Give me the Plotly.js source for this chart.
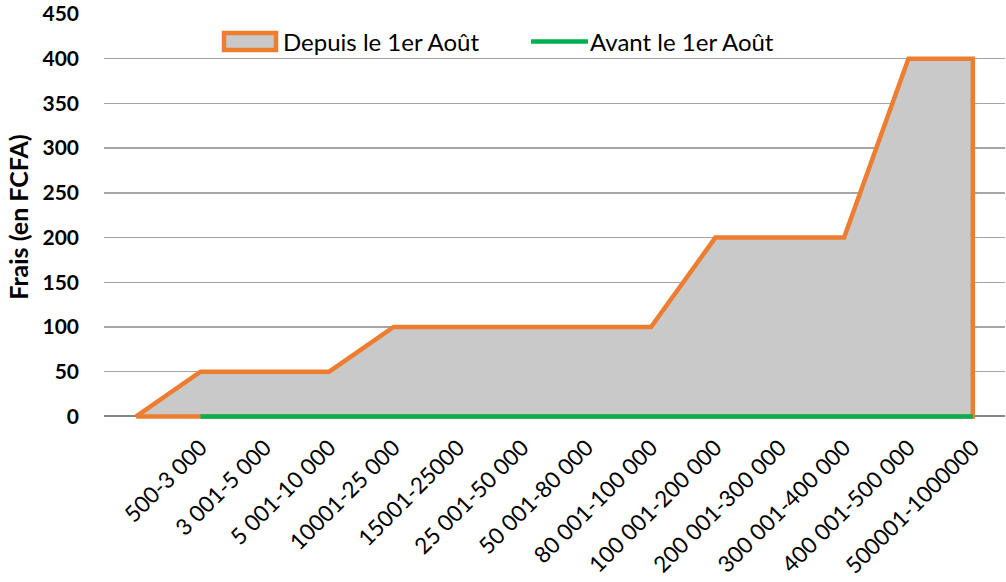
<!DOCTYPE html>
<html>
<head>
<meta charset="utf-8">
<script src="https://cdn.plot.ly/plotly-3.0.1.min.js"></script>
<style>html,body{margin:0;padding:0;background:#fff;}#chart{width:1006px;height:582px;}</style>
</head>
<body>
<div id="chart"></div>
<script>
// Category labels (first slot is empty, as in the original)
const categories = ["", "500-3 000", "3 001-5 000", "5 001-10 000", "10001-25 000", "15001-25000",
  "25 001-50 000", "50 001-80 000", "80 001-100 000", "100 001-200 000", "200 001-300 000",
  "300 001-400 000", "400 001-500 000", "500001-1000000"];
const depuis = [0, 50, 50, 50, 100, 100, 100, 100, 100, 200, 200, 200, 400, 400];
const avant = [null, 0, 0, 0, 0, 0, 0, 0, 0, 0, 0, 0, 0, 0];
const yTicks = [0, 50, 100, 150, 200, 250, 300, 350, 400, 450];
const seriesNames = ["Depuis le 1er Août", "Avant le 1er Août"];

const idx = categories.map((_, i) => i);
const last = idx.length - 1;
// Closed area polygon built from the data
const polyX = idx.concat([last, 0]);
const polyY = depuis.concat([0, 0]);

const FONT = "Lato, 'Liberation Sans', sans-serif";

// plot area geometry (pixels)
const W = 1006, H = 582, L = 104, R = 1, T = 14;
const plotW = W - L - R;
const pxPerUnit = 402 / 450;
const yMin = -4;
const plotH = (450 - yMin) * pxPerUnit;
const B = H - T - plotH;
const fx = px => (px - L) / plotW;
const fy = py => (T + plotH - py) / plotH;

const traces = [
  {
    type: "scatter", mode: "lines", name: seriesNames[0], showlegend: false,
    x: polyX, y: polyY, fill: "toself", fillcolor: "#C9C9C9",
    line: {color: "#ED7D31", width: 4.5, shape: "linear"},
    hoverinfo: "skip"
  },
  {
    type: "scatter", mode: "lines", name: seriesNames[1], showlegend: false,
    x: idx, y: avant,
    line: {color: "#00B050", width: 4.5}
  }
];

const legY = 41.5;
const layout = {
  width: W, height: H,
  margin: {l: L, r: R, t: T, b: B},
  paper_bgcolor: "#fff", plot_bgcolor: "#fff",
  font: {family: FONT, color: "#000"},
  showlegend: false,
  shapes: [
    {type: "rect", xref: "paper", yref: "paper", x0: fx(224), x1: fx(276), y0: fy(50), y1: fy(33),
     fillcolor: "#C9C9C9", line: {color: "#ED7D31", width: 4.5}},
    {type: "line", xref: "paper", yref: "paper", x0: fx(531), x1: fx(588), y0: fy(legY), y1: fy(legY),
     line: {color: "#00B050", width: 4.5}}
  ],
  annotations: [
    {xref: "paper", yref: "paper", x: fx(281), y: fy(legY), xanchor: "left", yanchor: "middle",
     text: seriesNames[0], showarrow: false, font: {family: FONT, size: 24, color: "#000"}},
    {xref: "paper", yref: "paper", x: fx(588), y: fy(legY), xanchor: "left", yanchor: "middle",
     text: seriesNames[1], showarrow: false, font: {family: FONT, size: 24, color: "#000"}}
  ],
  xaxis: {
    type: "linear", range: [-0.5, last + 0.5],
    tickmode: "array", tickvals: idx.slice(1), ticktext: categories.slice(1),
    tickangle: -45, tickfont: {family: FONT, size: 22.5, color: "#000"},
    showgrid: false, zeroline: false, showline: false, ticks: "", ticklabelstandoff: 9,
    fixedrange: true
  },
  yaxis: {
    range: [yMin, 450], tickmode: "array", tickvals: yTicks,
    tickfont: {family: FONT, size: 21, color: "#000", weight: "bold"},
    showgrid: true, gridcolor: "#A6A6A6", gridwidth: 1.3,
    zeroline: true, zerolinecolor: "#868686", zerolinewidth: 2,
    showline: false, ticks: "", ticklabelstandoff: 24,
    title: {text: "Frais (en FCFA)", font: {family: FONT, size: 25, color: "#000", weight: "bold"}, standoff: 6}
  }
};

Plotly.newPlot("chart", traces, layout, {displayModeBar: false, staticPlot: true});
</script>
</body>
</html>
